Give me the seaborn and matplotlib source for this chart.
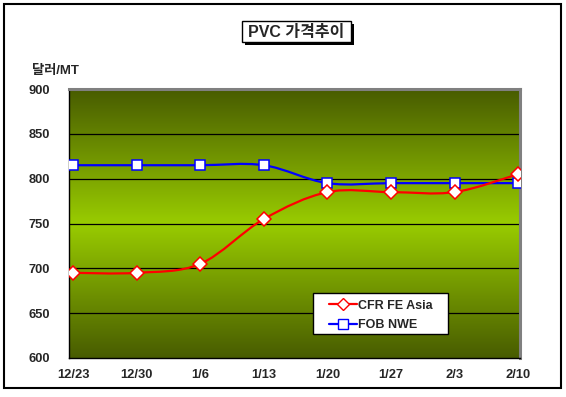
import matplotlib
matplotlib.use('Agg')
import matplotlib.pyplot as plt
import numpy as np
import pandas as pd
import seaborn as sns
from matplotlib.colors import LinearSegmentedColormap
from matplotlib.lines import Line2D
from matplotlib.path import Path
from matplotlib.patches import PathPatch, Rectangle

# data
dates = ['12/23', '12/30', '1/6', '1/13', '1/20', '1/27', '2/3', '2/10']
cfr_fe_asia = [695, 695, 705, 755, 785, 785, 785, 805]
fob_nwe = [815, 815, 815, 815, 795, 795, 795, 795]

sns.set_style('white')
plt.rcParams['font.family'] = ['Liberation Sans', 'Noto Sans CJK KR', 'DejaVu Sans']
plt.rcParams['font.weight'] = 'bold'

W, H = 566, 397
fig = plt.figure(figsize=(W / 100, H / 100), dpi=100)
ax = fig.add_axes([69 / W, 1 - 358 / H, (520 - 69) / W, (358 - 89) / H])

# background gradient, dark - bright - dark
cmap = LinearSegmentedColormap.from_list(
    'olive', [(0.0, '#485c00'), (0.5, '#99cc00'), (1.0, '#485c00')])
grad = np.linspace(0, 1, 256).reshape(-1, 1)
ax.imshow(grad, aspect='auto', cmap=cmap, extent=[-0.065, 7.03, 600, 900],
          zorder=0, origin='lower')


def smooth_path(xs, ys):
    # Excel-like smoothed line (Catmull-Rom as cubic beziers)
    pts = np.column_stack([xs, ys]).astype(float)
    n = len(pts)
    verts = [pts[0]]
    codes = [Path.MOVETO]
    for i in range(n - 1):
        p0 = pts[max(i - 1, 0)]
        p3 = pts[min(i + 2, n - 1)]
        c1 = pts[i] + (pts[i + 1] - p0) / 6
        c2 = pts[i + 1] - (p3 - pts[i]) / 6
        verts += [c1, c2, pts[i + 1]]
        codes += [Path.CURVE4] * 3
    return Path(verts, codes)


df = pd.DataFrame({'pos': range(len(dates)), 'date': dates,
                   'CFR FE Asia': cfr_fe_asia, 'FOB NWE': fob_nwe})

styles = {'CFR FE Asia': ('red', 'D', 7), 'FOB NWE': ('blue', 's', 7.5)}
for name in ['FOB NWE', 'CFR FE Asia']:
    color, marker, ms = styles[name]
    ax.add_patch(PathPatch(smooth_path(df['pos'], df[name]), fill=False,
                           edgecolor=color, lw=1.6, zorder=3))
    sns.lineplot(data=df, x='pos', y=name, ax=ax, linestyle='none',
                 marker=marker, markersize=ms, markerfacecolor='white',
                 markeredgecolor=color, markeredgewidth=1.1, zorder=4)

ax.set_xlim(-0.065, 7.03)
ax.set_ylim(600, 900)
ax.set_yticks(range(600, 901, 50))
ax.set_xticks(range(len(dates)))
ax.set_xticklabels(dates)
ax.set_xticks(np.arange(len(dates)) - 0.065, minor=True)
ax.tick_params(axis='x', which='major', length=0, pad=8, labelsize=9.3)
ax.tick_params(axis='x', which='minor', length=4, direction='in', color='black')
ax.tick_params(axis='y', length=0, pad=14, labelsize=9.3)
ax.set_xlabel('')
ax.set_ylabel('')
for y in range(650, 900, 50):
    ax.axhline(y, color='black', lw=0.9, zorder=1)

for s in ['top', 'right']:
    ax.spines[s].set_color('#808080')
    ax.spines[s].set_linewidth(2.2)
for s in ['left', 'bottom']:
    ax.spines[s].set_color('black')
    ax.spines[s].set_linewidth(1.0)

# legend box drawn by hand so the padding matches
fig.patches.append(Rectangle((313 / W, 1 - 334 / H), 135 / W, 41 / H,
                             transform=fig.transFigure, facecolor='white',
                             edgecolor='black', lw=1.0, zorder=2))
handles = [Line2D([], [], color='red', lw=1.6, marker='D', markersize=6,
                  markerfacecolor='white', markeredgecolor='red'),
           Line2D([], [], color='blue', lw=1.6, marker='s', markersize=6.5,
                  markerfacecolor='white', markeredgecolor='blue')]
leg = fig.legend(handles, ['CFR FE Asia', 'FOB NWE'], loc='center left',
                 bbox_to_anchor=(329 / W, 1 - 315.5 / H), frameon=False,
                 prop={'size': 9, 'weight': 'bold'}, handlelength=2.2,
                 handletextpad=0.1, borderpad=0, labelspacing=0.6,
                 borderaxespad=0)
leg.set_zorder(5)

# outer frame
fig.patches.append(Rectangle((4 / W, 1 - 388 / H), 557 / W, 384 / H,
                             transform=fig.transFigure, fill=False,
                             edgecolor='black', lw=1.5))

# title box with shadow
fig.patches.append(Rectangle((245 / W, 1 - 45 / H), 109 / W, 21 / H,
                             transform=fig.transFigure, facecolor='black',
                             edgecolor='black', lw=0))
fig.patches.append(Rectangle((242 / W, 1 - 42 / H), 109 / W, 21 / H,
                             transform=fig.transFigure, facecolor='white',
                             edgecolor='black', lw=1.0))
fig.text(296.5 / W, 1 - 32 / H, 'PVC 가격추이', ha='center', va='center',
         fontsize=11.5, fontweight='bold')

fig.text(32 / W, 1 - 71 / H, '달러/MT', ha='left', va='center',
         fontsize=9.5, fontweight='bold')

fig.savefig('out.png', dpi=100)
